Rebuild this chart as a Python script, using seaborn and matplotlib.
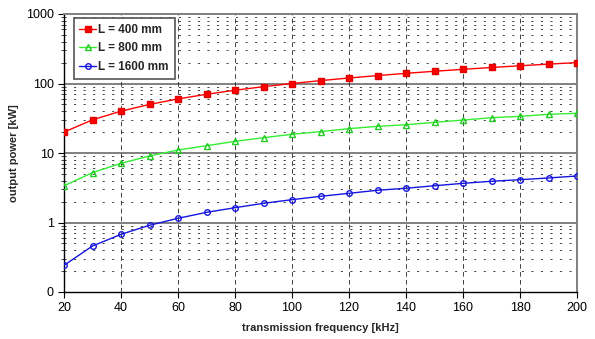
import matplotlib
matplotlib.use("Agg")
import matplotlib.pyplot as plt
import seaborn as sns
import pandas as pd
from matplotlib.ticker import FixedLocator, NullLocator

freq = [20, 30, 40, 50, 60, 70, 80, 90, 100, 110, 120, 130, 140, 150, 160, 170, 180, 190, 200]
p_400 = [20, 30, 40, 50, 60, 70, 80, 90, 100, 110, 120, 130, 140, 150, 160, 170, 180, 190, 200]
p_800 = [3.38, 5.21, 7.11, 9.05, 11.05, 12.74, 14.7, 16.6, 18.6, 20.3, 22.4, 24.2, 25.5, 27.6, 29.8, 32.2, 33.7, 36.0, 37.3]
p_1600 = [0.242, 0.459, 0.676, 0.912, 1.149, 1.40, 1.633, 1.89, 2.13, 2.38, 2.63, 2.91, 3.11, 3.38, 3.66, 3.92, 4.13, 4.37, 4.67]
series_labels = ["L = 400 mm", "L = 800 mm", "L = 1600 mm"]
x_ticks = [20, 40, 60, 80, 100, 120, 140, 160, 180, 200]
y_ticks = [0.1, 1, 10, 100, 1000]
y_tick_labels = ["0", "1", "10", "100", "1000"]

sns.set_style("white")
plt.rcParams["font.family"] = ["Liberation Sans", "DejaVu Sans"]

fig = plt.figure(figsize=(5.95, 3.39), dpi=100)
ax = fig.add_axes([64 / 595, 1 - 292 / 339, (577 - 64) / 595, (292 - 14) / 339])

df = pd.DataFrame({"f": freq * 3,
                   "P": p_400 + p_800 + p_1600,
                   "L": [series_labels[0]] * len(freq) + [series_labels[1]] * len(freq) + [series_labels[2]] * len(freq)})

styles = [
    dict(color="#ff0000", marker="s", markerfacecolor="#ff0000", markeredgecolor="#e00000", markersize=4.2),
    dict(color="#33ee33", marker="^", markerfacecolor="none", markeredgecolor="#22cc22", markersize=4.5),
    dict(color="#1515e0", marker="o", markerfacecolor="none", markeredgecolor="#1515e0", markersize=4.0),
]
for lab, st in zip(series_labels, styles):
    sub = df[df["L"] == lab]
    sns.lineplot(data=sub, x="f", y="P", ax=ax, label=lab, linewidth=1.0,
                 markeredgewidth=1.0, zorder=5, **st)

ax.set_yscale("log")
ax.set_xlim(20, 200)
ax.set_ylim(0.1, 1000)

ax.yaxis.set_major_locator(FixedLocator(y_ticks))
ax.set_yticklabels(y_tick_labels)
minor_y = [m * 10.0 ** e for e in range(-1, 3) for m in range(2, 10)]
ax.yaxis.set_minor_locator(FixedLocator(minor_y))
ax.xaxis.set_major_locator(FixedLocator(x_ticks))
ax.xaxis.set_minor_locator(NullLocator())

ax.grid(False)
for yv in y_ticks[1:-1]:
    ax.axhline(yv, color="#808080", linewidth=1.4, zorder=1)
for yv in minor_y:
    ax.axhline(yv, color="#444444", linewidth=0.7, linestyle=(0, (2.2, 7.6)), zorder=1)
for xv in x_ticks[1:-1]:
    ax.axvline(xv, color="#222222", linewidth=0.6, linestyle=(0, (5.5, 4.0)), zorder=1)

for side in ["top", "right"]:
    ax.spines[side].set_color("#808080")
    ax.spines[side].set_linewidth(1.4)
for side in ["left", "bottom"]:
    ax.spines[side].set_color("black")
    ax.spines[side].set_linewidth(1.0)

ax.tick_params(axis="both", which="major", direction="out", length=4, width=0.8,
               labelsize=9, colors="black", left=True, bottom=True)
ax.tick_params(axis="y", which="minor", direction="out", length=2, width=0.6, left=True)

ax.set_xlabel("transmission frequency [kHz]", fontsize=8, fontweight="bold", labelpad=6)
ax.set_ylabel("output power [kW]", fontsize=8, fontweight="bold")
ax.yaxis.set_label_coords(-0.088, 0.5)

leg = ax.legend(loc="upper left", bbox_to_anchor=(0.014, 0.995), frameon=True, fancybox=False,
                prop={"weight": "bold", "size": 8.5}, handlelength=1.4, borderpad=0.5,
                labelspacing=0.55, handletextpad=0.2, borderaxespad=0.2)
leg.get_frame().set_edgecolor("#555555")
leg.get_frame().set_linewidth(1.2)
leg.get_frame().set_facecolor("white")
leg.get_frame().set_alpha(1)
leg.set_zorder(10)

fig.savefig("out.png", dpi=100)
